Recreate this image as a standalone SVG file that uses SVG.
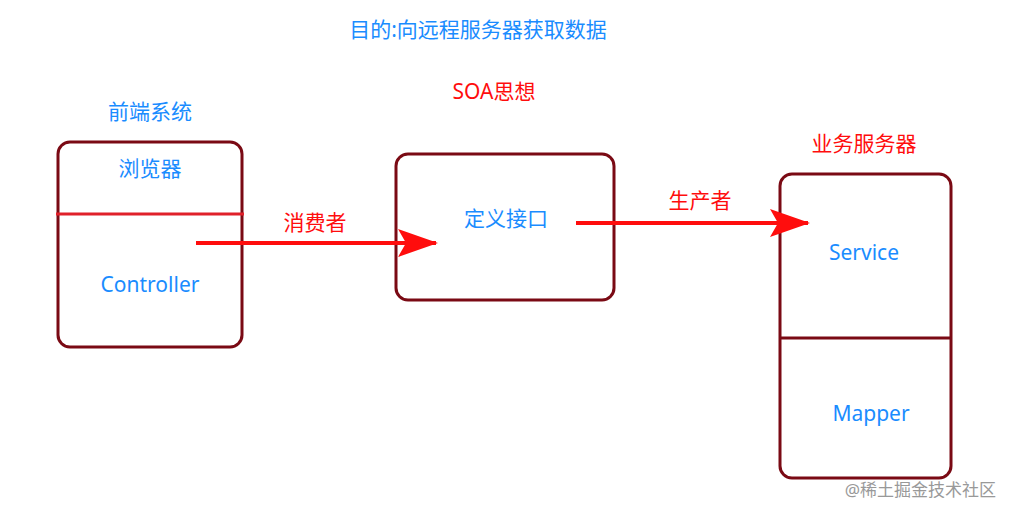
<svg xmlns="http://www.w3.org/2000/svg" width="1010" height="516" viewBox="0 0 1010 516">
<style>
.box{fill:none;stroke:#7a0a14;stroke-width:3}
.blue{fill:#1a8cff;font-family:"Noto Sans","Noto Sans CJK SC",sans-serif;font-size:21px;text-anchor:middle}
.red{fill:#ff0d0d;font-family:"Noto Sans","Noto Sans CJK SC",sans-serif;font-size:21px;text-anchor:middle}
.arrow{stroke:#ff0d0d;stroke-width:4;fill:none}
</style>
<defs>
<marker id="ah" viewBox="0 0 20 14" refX="19" refY="7" markerWidth="10" markerHeight="7" markerUnits="strokeWidth" orient="auto">
<path d="M0,0 L20,7 L0,14 L4,7 Z" fill="#ff0d0d"/>
</marker>
</defs>
<rect width="1010" height="516" fill="#fff"/>
<text class="blue" x="478" y="37">目的:向远程服务器获取数据</text>
<text class="red" x="494" y="99">SOA思想</text>
<g id="frontend">
<text class="blue" x="150" y="119">前端系统</text>
<rect class="box" x="58" y="142" width="184" height="205" rx="12"/>
<line x1="56" y1="214" x2="244" y2="214" stroke="#e0202a" stroke-width="3"/>
<text class="blue" x="150" y="176">浏览器</text>
<text class="blue" x="150" y="292">Controller</text>
</g>
<g id="interface">
<rect class="box" x="396" y="154" width="218" height="146" rx="12"/>
<text class="blue" x="506" y="226">定义接口</text>
</g>
<g id="server">
<text class="red" x="864" y="151">业务服务器</text>
<rect class="box" x="780" y="174" width="171" height="304" rx="12"/>
<line x1="780" y1="338" x2="951" y2="338" stroke="#7a0a14" stroke-width="3"/>
<text class="blue" x="864" y="260">Service</text>
<text class="blue" x="871" y="421">Mapper</text>
</g>
<g id="connectors">
<line class="arrow" x1="196" y1="243" x2="436" y2="243" marker-end="url(#ah)"/>
<text class="red" x="315" y="230">消费者</text>
<line class="arrow" x1="576" y1="223" x2="808" y2="223" marker-end="url(#ah)"/>
<text class="red" x="700" y="208">生产者</text>
</g>
<text x="996" y="496" font-family="'Noto Sans','Noto Sans CJK SC',sans-serif" font-size="17" fill="#999" text-anchor="end">@稀土掘金技术社区</text>
</svg>
